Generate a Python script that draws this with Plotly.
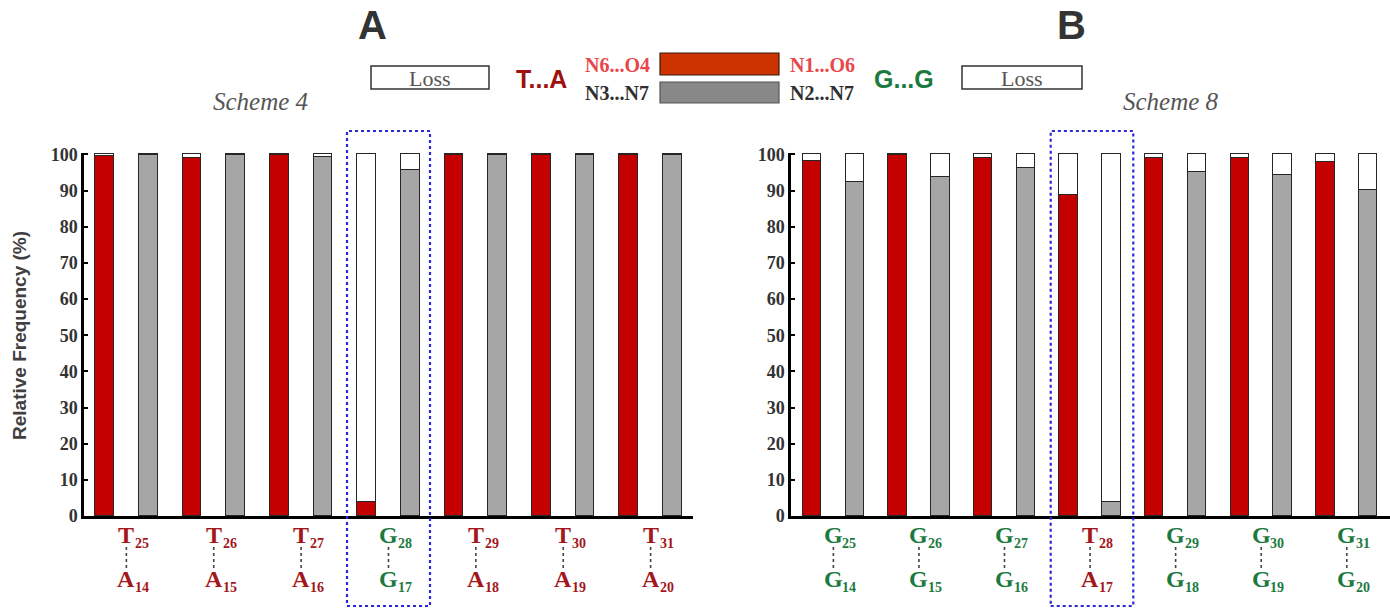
import plotly.graph_objects as go

W, H = 1390, 609

# ---- data -------------------------------------------------------------
# Scheme 4 (panel A): first H-bond (N6...O4 / N1...O6), second H-bond (N3...N7 / N2...N7)
s4_top_base = ["T", "T", "T", "G", "T", "T", "T"]
s4_top_num = ["25", "26", "27", "28", "29", "30", "31"]
s4_bot_base = ["A", "A", "A", "G", "A", "A", "A"]
s4_bot_num = ["14", "15", "16", "17", "18", "19", "20"]
s4_first = [99.6, 99.0, 99.8, 4.0, 99.8, 99.8, 99.8]
s4_first_loss = [0.4, 1.0, 0.2, 96.0, 0.2, 0.2, 0.2]
s4_second = [99.8, 99.8, 99.4, 95.6, 99.8, 99.8, 99.8]
s4_second_loss = [0.2, 0.2, 0.6, 4.4, 0.2, 0.2, 0.2]

# Scheme 8 (panel B)
s8_top_base = ["G", "G", "G", "T", "G", "G", "G"]
s8_top_num = ["25", "26", "27", "28", "29", "30", "31"]
s8_bot_base = ["G", "G", "G", "A", "G", "G", "G"]
s8_bot_num = ["14", "15", "16", "17", "18", "19", "20"]
s8_first = [98.1, 99.9, 99.1, 88.9, 99.1, 99.0, 97.9]
s8_first_loss = [1.9, 0.1, 0.9, 11.1, 0.9, 1.0, 2.1]
s8_second = [92.3, 93.7, 96.3, 4.0, 95.1, 94.2, 90.2]
s8_second_loss = [7.7, 6.3, 3.7, 96.0, 4.9, 5.8, 9.8]

y_ticks = [0, 10, 20, 30, 40, 50, 60, 70, 80, 90, 100]

# ---- styling ----------------------------------------------------------
RED = "#C40000"
GRAY = "#A6A6A6"
OUTLINE = "#262626"
TA_COLOR = "#A3161B"
GG_COLOR = "#1C7A3F"
SERIF = "Liberation Serif"
SANS = "Liberation Sans"
BAR_W = 0.43


def px(x):
    return x / W


def py(y):
    return 1 - y / H


fig = go.Figure()


def add_panel(first, first_loss, second, second_loss, xa, ya):
    n = len(first)
    xs_first = [2 * i for i in range(n)]
    xs_second = [2 * i + 1 for i in range(n)]
    line = dict(color=OUTLINE, width=1.5)
    fig.add_trace(go.Bar(x=xs_first, y=first, marker=dict(color=RED, line=line),
                         width=BAR_W, xaxis=xa, yaxis=ya, showlegend=False))
    fig.add_trace(go.Bar(x=xs_second, y=second, marker=dict(color=GRAY, line=line),
                         width=BAR_W, xaxis=xa, yaxis=ya, showlegend=False))
    fig.add_trace(go.Bar(x=xs_first + xs_second, y=first_loss + second_loss,
                         marker=dict(color="white", line=line),
                         width=BAR_W, xaxis=xa, yaxis=ya, showlegend=False))


add_panel(s4_first, s4_first_loss, s4_second, s4_second_loss, "x", "y")
add_panel(s8_first, s8_first_loss, s8_second, s8_second_loss, "x2", "y2")

y_dom = [py(516), py(153)]
yaxis_common = dict(
    range=[0, 100.4], tickvals=y_ticks, ticktext=["<b>%d</b>" % v for v in y_ticks],
    showline=True, linecolor="black", linewidth=2.5,
    ticks="inside", ticklen=4, tickwidth=2, tickcolor="black",
    tickfont=dict(family=SERIF, size=18, color="#333333"),
    showgrid=False, zeroline=False, domain=y_dom, automargin=False,
)
xaxis_common = dict(
    showline=True, linecolor="black", linewidth=2.5, showticklabels=False,
    ticks="", showgrid=False, zeroline=False, automargin=False,
)

fig.update_layout(
    width=W, height=H, margin=dict(l=0, r=0, t=0, b=0, pad=0), autosize=False,
    paper_bgcolor="white", plot_bgcolor="white", barmode="stack", bargap=0,
    xaxis=dict(xaxis_common, range=[-0.47, 13.47], domain=[px(84), px(693)], anchor="y"),
    yaxis=dict(yaxis_common, anchor="x"),
    xaxis2=dict(xaxis_common, range=[-0.49, 13.51], domain=[px(791), 1.0], anchor="y2"),
    yaxis2=dict(yaxis_common, anchor="x2"),
)

annotations = []
shapes = []


def label(x, y, text, font, xref="paper", **kw):
    d = dict(x=x, y=y, xref=xref, yref="paper", text=text, showarrow=False,
             xanchor="center", yanchor="middle", font=font)
    d.update(kw)
    annotations.append(d)


def pair_labels(top_base, top_num, bot_base, bot_num, xref):
    for i in range(len(top_base)):
        xc = 2 * i + 0.5
        color = GG_COLOR if top_base[i] == "G" else TA_COLOR
        for base, num, yc in ((top_base[i], top_num[i], 535), (bot_base[i], bot_num[i], 579)):
            label(xc, py(yc), "<b>%s</b>" % base,
                  dict(family=SERIF, size=24, color=color), xref=xref)
            label(xc, py(yc + 8), "<b>%s</b>" % num,
                  dict(family=SERIF, size=14, color=color), xref=xref,
                  xanchor="left", xshift=7)
        shapes.append(dict(type="line", xref=xref, yref="paper", x0=xc, x1=xc,
                           y0=py(547), y1=py(568),
                           line=dict(color="#444444", width=1.6, dash="dot")))


pair_labels(s4_top_base, s4_top_num, s4_bot_base, s4_bot_num, "x")
pair_labels(s8_top_base, s8_top_num, s8_bot_base, s8_bot_num, "x2")

# highlighted base pairs
for xref, x0, x1 in (("x", 5.55, 7.45), ("x2", 5.58, 7.51)):
    shapes.append(dict(type="rect", xref=xref, yref="paper", x0=x0, x1=x1,
                       y0=py(606), y1=py(131),
                       line=dict(color="#2929D6", width=2.2, dash="dot")))

# y-axis title
label(px(19), py(336), "<b>Relative Frequency (%)</b>",
      dict(family=SANS, size=19, color="#404040"), textangle=-90)

# panel letters and scheme captions
for txt, xc in (("A", 372), ("B", 1071)):
    label(px(xc), py(25), "<b>%s</b>" % txt, dict(family=SANS, size=40, color="#333333"))
for txt, xc in (("Scheme 4", 260), ("Scheme 8", 1171)):
    label(px(xc), py(101), "<i>%s</i>" % txt, dict(family=SERIF, size=25, color="#555555"))

# key: loss boxes
for x0, x1 in ((371, 489), (962, 1082)):
    shapes.append(dict(type="rect", xref="paper", yref="paper",
                       x0=px(x0), x1=px(x1), y0=py(89), y1=py(66),
                       line=dict(color="#333333", width=1.5), fillcolor="white"))
    label(px((x0 + x1) / 2), py(79), "Loss", dict(family=SERIF, size=22, color="#555555"))

# key: bond colour swatches
shapes.append(dict(type="rect", xref="paper", yref="paper", x0=px(660), x1=px(779),
                   y0=py(75), y1=py(53), fillcolor="#CC3300",
                   line=dict(color="#3a1a10", width=1.2)))
shapes.append(dict(type="rect", xref="paper", yref="paper", x0=px(660), x1=px(779),
                   y0=py(103), y1=py(82), fillcolor="#888888",
                   line=dict(color="#555555", width=1.2)))

key_texts = [
    ("N6...O4", 617, 65, "#E8474C"),
    ("N3...N7", 617, 93, "#2f2f2f"),
    ("N1...O6", 822, 65, "#E8474C"),
    ("N2...N7", 822, 93, "#2f2f2f"),
]
for txt, xc, yc, col in key_texts:
    label(px(xc), py(yc), "<b>%s</b>" % txt, dict(family=SERIF, size=20, color=col))
label(px(541), py(79), "<b>T...A</b>", dict(family=SANS, size=25, color="#A01010"))
label(px(904), py(79), "<b>G...G</b>", dict(family=SANS, size=25, color=GG_COLOR))

fig.update_layout(annotations=annotations, shapes=shapes)
fig.write_html("out.html")
